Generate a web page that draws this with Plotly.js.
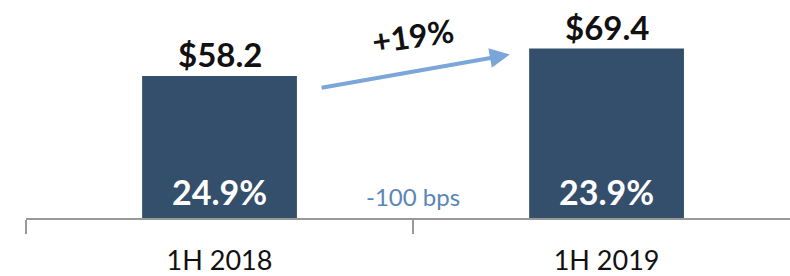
<!DOCTYPE html>
<html><head><meta charset="utf-8">
<script src="https://cdn.plot.ly/plotly-3.0.1.min.js"></script>
<style>html,body{margin:0;padding:0;background:#fff}#c{width:790px;height:276px}</style>
</head><body><div id="c"></div>
<script>
const categories = ['1H 2018', '1H 2019'];
const revenue = [58.2, 69.4];
const revenueLabels = ['$58.2', '$69.4'];
const marginLabels = ['24.9%', '23.9%'];
const growthLabel = '+19%';
const marginChangeLabel = '-100 bps';

const FONT = 'Lato, "Open Sans", sans-serif';
const NAVY = '#344f6b';

const annotations = [];
categories.forEach((c, i) => {
  annotations.push({x: c, y: revenue[i], xref: 'x', yref: 'y', text: '<b>' + revenueLabels[i] + '</b>',
    showarrow: false, yanchor: 'bottom', yshift: 0, font: {family: FONT, size: 33, color: '#111'}});
  annotations.push({x: c, y: 0, xref: 'x', yref: 'y', text: '<b>' + marginLabels[i] + '</b>',
    showarrow: false, yanchor: 'bottom', yshift: 4, font: {family: FONT, size: 34, color: '#fff'}});
});
// growth arrow between bars
annotations.push({x: 0.75, y: revenue[1] * 0.965, xref: 'x', yref: 'y',
  ax: 0.26, ay: revenue[0] * 0.915, axref: 'x', ayref: 'y', text: '',
  showarrow: true, arrowhead: 2, arrowsize: 1, arrowwidth: 4, arrowcolor: '#7ba6d9'});
annotations.push({x: 0.5, y: revenue[1] * 1.075, xref: 'x', yref: 'y', text: '<b>' + growthLabel + '</b>',
  showarrow: false, textangle: -8, font: {family: FONT, size: 32, color: '#111'}});
annotations.push({x: 0.5, y: 0, xref: 'x', yref: 'y', text: marginChangeLabel,
  showarrow: false, yanchor: 'bottom', yshift: 5, font: {family: FONT, size: 24, color: '#5b86b6'}});

Plotly.newPlot('c', [{
  type: 'bar', x: categories, y: revenue, width: 0.4,
  marker: {color: NAVY}, hoverinfo: 'none'
}], {
  width: 790, height: 276,
  margin: {l: 26, r: 0, t: 0, b: 58},
  paper_bgcolor: '#fff', plot_bgcolor: '#fff',
  showlegend: false,
  xaxis: {type: 'category', range: [-0.5, 1.474], tickson: 'boundaries',
    ticks: 'outside', ticklen: 14, tickwidth: 1.5, tickcolor: '#999',
    ticklabelstandoff: 18,
    showline: true, linecolor: '#999', linewidth: 1.5, showgrid: false, zeroline: false,
    tickfont: {family: FONT, size: 27, color: '#111'}},
  yaxis: {range: [0, 89.3], visible: false, fixedrange: true},
  annotations: annotations
}, {displayModeBar: false, staticPlot: true});
</script></body></html>
